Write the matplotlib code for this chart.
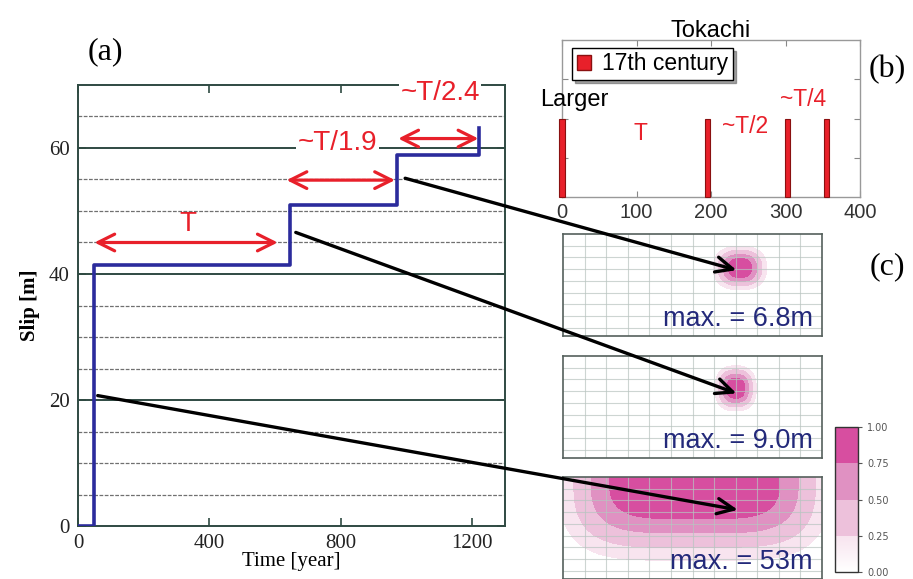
import numpy as np
import matplotlib
matplotlib.use("Agg")
import matplotlib.pyplot as plt
from matplotlib.patches import Patch, ConnectionPatch
from matplotlib.colors import ListedColormap, BoundaryNorm, LinearSegmentedColormap
import matplotlib.colorbar as mcolorbar

# ---------------- data ----------------
# (a) cumulative slip history
step_time = [0, 50, 50, 645, 645, 970, 970, 1222, 1222]
step_slip = [0, 0, 41.5, 41.5, 50.9, 50.9, 58.9, 58.9, 63.2]
interval_start = [50, 635, 975]
interval_end = [608, 965, 1219]
interval_y = [45.0, 54.9, 61.5]
interval_labels = ["T", "~T/1.9", "~T/2.4"]
interval_label_x = [336, 790, 1103]
interval_label_y = [47.9, 60.8, 68.8]
interval_label_box = [False, True, True]
a_xticks = [0, 400, 800, 1200]
a_yticks = [0, 20, 40, 60]

# (b) Tokachi event history
event_years = [0, 195, 303, 355]
event_height = [2, 2, 2, 2]
b_xticks = [0, 100, 200, 300, 400]
b_text = ["Larger", "T", "~T/2", "~T/4"]
b_text_x = [16, 105, 246, 324]
b_text_y = [2.48, 1.62, 1.8, 2.48]
b_text_col = ["black", "#e8202a", "#e8202a", "#e8202a"]

# (c) normalized slip maps (super-Gaussian patches)
map_max = ["max. = 6.8m", "max. = 9.0m", "max. = 53m"]
map_cx = [8.2, 8.0, 6.1]
map_cy = [2.9, 2.76, 0.0]
map_sx = [0.88, 0.68, 5.21]
map_sy = [1.32, 1.38, 5.38]
map_px = [2.5, 2.5, 4.5]
map_py = [2.5, 2.5, 3.0]
levels = [0.1, 0.25, 0.5, 0.75, 1.01]
level_colors = ["#f8e4ef", "#edc1db", "#e091c2", "#d74ea0"]
cbar_ticks = [0.0, 0.25, 0.5, 0.75, 1.0]

# arrows from (a) to (c): start (time, slip) -> end (map x, map depth)
arrow_a = [(996, 55.2), (663, 46.6), (60, 20.7)]
arrow_c = [(8.04, 3.08), (8.04, 3.19), (8.1, 2.8)]

RED = "#e8202a"
BLUE = "#2b2b9c"
SPINE = "#2f4a42"
NAVY = "#23297a"

fig = plt.figure(figsize=(9.13, 5.79), dpi=100)
W, H = 913, 579

def ax_px(l, t, r, b):
    return fig.add_axes([l / W, 1 - b / H, (r - l) / W, (b - t) / H])

# ---------------- (a) ----------------
ax = ax_px(78, 85, 505, 526)
ax.set_xlim(0, 1300)
ax.set_ylim(0, 70)
minor = [y for y in range(5, 70, 5) if y % 20 != 0]
for y in minor:
    ax.axhline(y, color="#707070", lw=0.9, ls=(0, (3, 1.2)), zorder=1)
for y in [20, 40, 60]:
    ax.axhline(y, color=SPINE, lw=1.4, zorder=1)
ax.plot(step_time, step_slip, color=BLUE, lw=2.6, zorder=3, solid_joinstyle="round")
for s, e, y in zip(interval_start, interval_end, interval_y):
    ax.annotate("", xy=(e, y), xytext=(s, y),
                arrowprops=dict(arrowstyle="<->,head_length=1.2,head_width=0.6",
                                color=RED, lw=2.3, shrinkA=0, shrinkB=0), zorder=4)
for lab, x, y, bx_on in zip(interval_labels, interval_label_x, interval_label_y, interval_label_box):
    kw = dict(bbox=dict(facecolor="white", edgecolor="none", pad=1)) if bx_on else {}
    ax.text(x, y, lab, color=RED, fontsize=20, family="Liberation Sans",
            ha="center", va="center", zorder=5, clip_on=False, **kw)
ax.set_xticks(a_xticks)
ax.set_yticks(a_yticks)
ax.tick_params(direction="in", length=6, width=1.2, color=SPINE, top=True, right=True,
               labelsize=15, labelcolor="#222222", pad=6)
for lab in ax.get_xticklabels() + ax.get_yticklabels():
    lab.set_family("Liberation Serif")
for sp in ax.spines.values():
    sp.set_color(SPINE)
    sp.set_linewidth(1.4)
ax.set_xlabel("Time [year]", family="Liberation Serif", fontsize=15, labelpad=-1)
ax.set_ylabel("Slip [m]", family="Liberation Serif", fontsize=15, fontweight="bold", labelpad=6)

fig.text(105 / W, 1 - 52 / H, "(a)", family="Liberation Serif", fontsize=23, ha="center", va="center")
fig.text(887 / W, 1 - 70 / H, "(b)", family="Liberation Serif", fontsize=23, ha="center", va="center")
fig.text(887 / W, 1 - 267 / H, "(c)", family="Liberation Serif", fontsize=23, ha="center", va="center")

# ---------------- (b) ----------------
bx = ax_px(562, 40, 860, 197)
bx.bar(event_years, event_height, width=7, color=RED, edgecolor="#8a1010", lw=0.8,
       clip_on=False, zorder=3)
bx.set_xlim(0, 400)
bx.set_ylim(0, 4)
bx.set_xticks(b_xticks)
bx.set_yticks([1, 2, 3])
bx.set_yticklabels([])
bx.tick_params(direction="in", length=4, color="#888888", top=True, right=True,
               labelsize=14.5, labelcolor="#333333", pad=4)
for lab in bx.get_xticklabels():
    lab.set_family("Liberation Sans")
for sp in bx.spines.values():
    sp.set_color("#999999")
    sp.set_linewidth(1.0)
bx.set_title("Tokachi", family="Liberation Sans", fontsize=17, pad=2)
for t, x, y, c in zip(b_text, b_text_x, b_text_y, b_text_col):
    bx.text(x, y, t, color=c, fontsize=17 if t == "Larger" else 16.5,
            family="Liberation Sans", ha="center", va="center", zorder=5, clip_on=False)
leg = bx.legend(handles=[Patch(facecolor=RED, edgecolor="#8a1010")], labels=["17th century"],
                loc="upper left", bbox_to_anchor=(0.035, 0.95), fancybox=False, shadow=True,
                edgecolor="black", framealpha=1, prop=dict(family="Liberation Sans", size=16.5),
                handlelength=0.6, handleheight=0.6, handletextpad=0.5, borderpad=0.2,
                borderaxespad=0)
leg.get_frame().set_linewidth(1.0)

# ---------------- (c) ----------------
cmap = ListedColormap(level_colors)
map_tops = [234, 356, 477]
map_axes = []
gx = np.linspace(0, 12, 241)
gy = np.linspace(0, 8.7, 175)
X, Y = np.meshgrid(gx, gy)
for i, top in enumerate(map_tops):
    m = ax_px(563, top, 822, top + 102)
    F = np.exp(-np.abs((X - map_cx[i]) / map_sx[i]) ** map_px[i]
               - np.abs((Y - map_cy[i]) / map_sy[i]) ** map_py[i])
    m.contourf(X, Y, F, levels=levels, colors=level_colors, zorder=1)
    m.set_xlim(0, 12)
    m.set_ylim(8.7, 0)
    for x in range(1, 12):
        m.axvline(x, color="#b8c4c0", lw=0.8, alpha=0.7, zorder=2)
    for y in range(1, 9):
        m.axhline(y, color="#b8c4c0", lw=0.8, alpha=0.7, zorder=2)
    m.set_xticks([])
    m.set_yticks([])
    for sp in m.spines.values():
        sp.set_color("#55605c")
        sp.set_linewidth(1.2)
    m.text(0.965, 0.1, map_max[i], transform=m.transAxes, ha="right", va="baseline",
           fontsize=19.5, family="Liberation Sans", color=NAVY, zorder=5)
    map_axes.append(m)

cax = ax_px(835, 427, 858, 572)
cb = mcolorbar.ColorbarBase(cax, cmap=cmap, norm=BoundaryNorm(cbar_ticks, cmap.N),
                            ticks=cbar_ticks, orientation="vertical")
cb.ax.set_yticklabels(["%.2f" % v for v in cbar_ticks])
cb.ax.tick_params(labelsize=7, colors="#555555", length=3, width=0.8)
cb.outline.set_edgecolor("#333333")
cb.outline.set_linewidth(1.0)
# lowest band fades to white
fade = LinearSegmentedColormap.from_list("fade", ["#ffffff", level_colors[0]])
cax.imshow(np.linspace(0, 1, 50).reshape(-1, 1), cmap=fade, origin="lower",
           extent=(0, 1, cbar_ticks[0], cbar_ticks[1]), aspect="auto", zorder=2)
cax.set_xlim(0, 1)
cax.set_ylim(0, 1)

# connecting arrows
for (ta, sa), (mx, my), m in zip(arrow_a, arrow_c, map_axes):
    con = ConnectionPatch(xyA=(ta, sa), coordsA=ax.transData, xyB=(mx, my), coordsB=m.transData,
                          arrowstyle="->,head_length=1.2,head_width=0.55", color="black",
                          lw=2.4, zorder=10)
    fig.add_artist(con)

fig.savefig("out.png", dpi=100)
